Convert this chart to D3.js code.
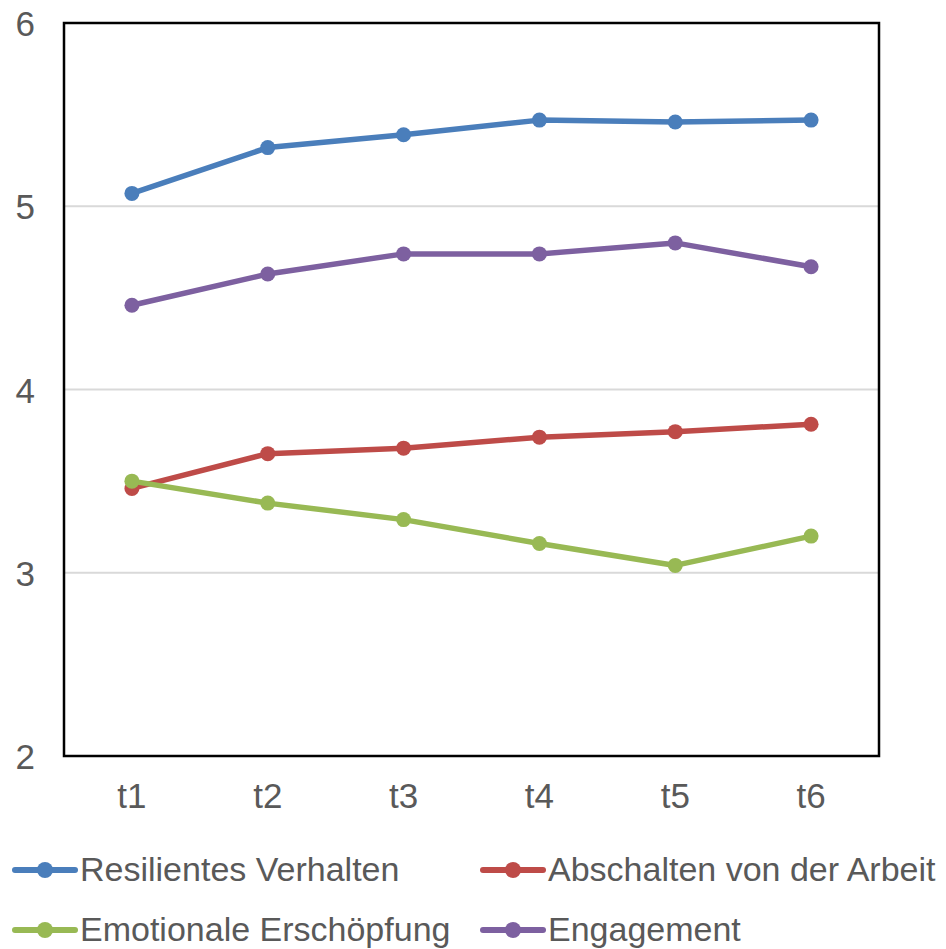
<!DOCTYPE html>
<html>
<head>
<meta charset="utf-8">
<script src="https://cdn.jsdelivr.net/npm/d3@7"></script>
<style>
  html, body { margin: 0; padding: 0; background: #fff; }
  svg { display: block; }
</style>
</head>
<body>
<svg id="chart" width="946" height="949"></svg>
<script>
const categories = ["t1", "t2", "t3", "t4", "t5", "t6"];
const yTicks = [2, 3, 4, 5, 6];

const resilientesVerhalten = [5.07, 5.32, 5.39, 5.47, 5.46, 5.47];
const abschaltenVonDerArbeit = [3.46, 3.65, 3.68, 3.74, 3.77, 3.81];
const emotionaleErschoepfung = [3.50, 3.38, 3.29, 3.16, 3.04, 3.20];
const engagement = [4.46, 4.63, 4.74, 4.74, 4.80, 4.67];

const seriesNames = ["Resilientes Verhalten", "Abschalten von der Arbeit", "Emotionale Erschöpfung", "Engagement"];
const seriesColors = ["#4a7ebb", "#be4b48", "#98b954", "#7d60a0"];
const seriesValues = [resilientesVerhalten, abschaltenVonDerArbeit, emotionaleErschoepfung, engagement];

const series = seriesNames.map((name, i) => ({ name, color: seriesColors[i], values: seriesValues[i] }));

const svg = d3.select("#chart");
const plot = { left: 64, right: 879, top: 23, bottom: 756 };

const x = d3.scaleBand().domain(categories).range([plot.left, plot.right]);
const y = d3.scaleLinear().domain([2, 6]).range([plot.bottom, plot.top]);

const font = "'Liberation Sans', Arial, sans-serif";
const textColor = "#595959";

// horizontal gridlines
svg.append("g")
  .selectAll("line")
  .data(yTicks.filter(t => t > 2 && t < 6))
  .join("line")
  .attr("x1", plot.left).attr("x2", plot.right)
  .attr("y1", d => y(d)).attr("y2", d => y(d))
  .attr("stroke", "#d9d9d9").attr("stroke-width", 2);

// plot frame
svg.append("rect")
  .attr("x", plot.left).attr("y", plot.top)
  .attr("width", plot.right - plot.left).attr("height", plot.bottom - plot.top)
  .attr("fill", "none").attr("stroke", "#000").attr("stroke-width", 2.5);

// y axis labels
const yAxis = d3.axisLeft(y).tickValues(yTicks).tickSize(0).tickPadding(0).tickFormat(d3.format("d"));
const gy = svg.append("g").attr("transform", "translate(35,0)").call(yAxis);
gy.select(".domain").remove();
gy.selectAll("text")
  .attr("font-family", font).attr("font-size", 35).attr("fill", textColor)
  .attr("text-anchor", "end").attr("dy", "0.36em");

// x axis labels
const xAxis = d3.axisBottom(x).tickSize(0).tickPadding(0);
const gx = svg.append("g").attr("transform", `translate(0,${plot.bottom + 52})`).call(xAxis);
gx.select(".domain").remove();
gx.selectAll("text")
  .attr("font-family", font).attr("font-size", 35).attr("fill", textColor)
  .attr("dy", 0);

// lines and markers
const line = d3.line()
  .x((d, i) => x(categories[i]) + x.bandwidth() / 2)
  .y(d => y(d));

const gSeries = svg.append("g")
  .selectAll("g")
  .data(series)
  .join("g");

gSeries.append("path")
  .attr("d", d => line(d.values))
  .attr("fill", "none")
  .attr("stroke", d => d.color)
  .attr("stroke-width", 5.5)
  .attr("stroke-linejoin", "round");

gSeries.selectAll("circle")
  .data(d => d.values.map((v, i) => ({ v, i, color: d.color })))
  .join("circle")
  .attr("cx", d => x(categories[d.i]) + x.bandwidth() / 2)
  .attr("cy", d => y(d.v))
  .attr("r", 7.5)
  .attr("fill", d => d.color);

// legend
const legendPos = [
  { x: 15, y: 870 }, { x: 483, y: 870 },
  { x: 15, y: 930 }, { x: 483, y: 930 }
];
const legend = svg.append("g")
  .selectAll("g")
  .data(series)
  .join("g")
  .attr("transform", (d, i) => `translate(${legendPos[i].x},${legendPos[i].y})`);

legend.append("line")
  .attr("x1", 0).attr("x2", 60).attr("y1", 0).attr("y2", 0)
  .attr("stroke", d => d.color).attr("stroke-width", 6)
  .attr("stroke-linecap", "round");
legend.append("circle")
  .attr("cx", 30).attr("cy", 0).attr("r", 8)
  .attr("fill", d => d.color);
legend.append("text")
  .attr("x", 65).attr("y", 0).attr("dy", "0.33em")
  .attr("font-family", font).attr("font-size", 34).attr("fill", textColor)
  .text(d => d.name);
</script>
</body>
</html>
